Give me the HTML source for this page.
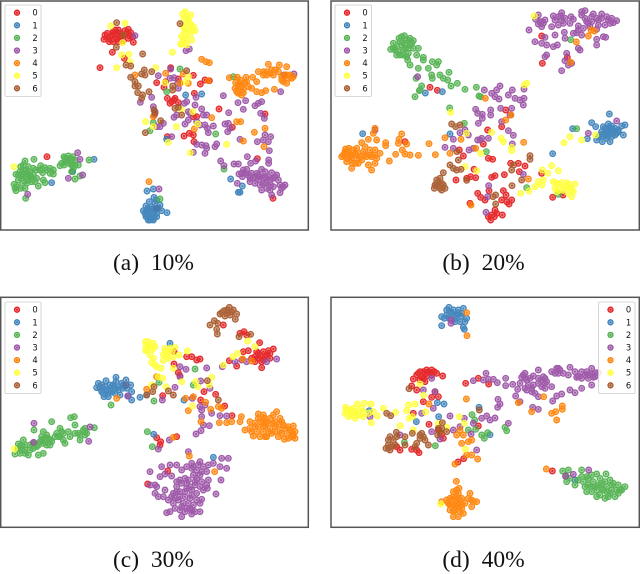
<!DOCTYPE html>
<html lang="en">
<head>
<meta charset="utf-8">
<title>t-SNE scatter panels</title>
<style>
html,body{margin:0;padding:0;background:#fff;width:640px;height:574px;overflow:hidden}
svg{display:block;position:absolute;left:0;top:0;filter:blur(.3px)}
.cap{font-family:"Liberation Serif",serif;font-size:23.5px;word-spacing:6px;fill:#111;text-anchor:middle}
.lg{font-family:"DejaVu Sans",sans-serif;font-size:8.4px;fill:#111;text-anchor:middle;dominant-baseline:central}
</style>
</head>
<body>
<svg id="chart" width="640" height="574" viewBox="0 0 640 574" xmlns="http://www.w3.org/2000/svg"></svg>
<script>
const classLabels=['0','1','2','3','4','5','6'];
const classColors=['#e41a1c','#377eb8','#4daf4a','#984ea3','#ff7f00','#ffff33','#a65628'];
const captions=['(a) 10%','(b) 20%','(c) 30%','(d) 40%'];

const a0=[[315,105],[322,100],[330,110],[328,125],[340,95],[345,105],[350,118],[355,90],[362,100],[375,92],[385,88],[392,98],[398,110],[385,115],[370,122],[340,125],[360,115],[312,118],[400,127],[337,157],[373,175],[300,203],[512,203],[580,226],[470,248],[497,245],[492,262],[535,237],[601,252],[615,240],[628,242],[583,280],[502,295],[515,305],[525,295],[510,310],[535,308],[522,300],[590,350],[580,350],[657,327],[795,342],[552,408],[568,400],[580,405],[582,425],[502,410],[697,382],[772,476],[819,595],[470,625],[141,470],[325,115],[335,105],[350,100],[365,108],[378,102],[390,108],[355,125],[345,90]];
const a1=[[441,573],[460,567],[462,592],[448,605],[438,618],[430,632],[442,630],[455,620],[465,610],[440,645],[450,650],[462,655],[470,640],[455,640],[445,660],[460,660],[435,640],[480,615],[485,632],[501,638],[470,600],[452,632],[462,645],[155,548],[282,478],[218,515],[557,285],[605,282],[692,537],[727,558],[715,577],[720,577],[500,418],[445,625],[458,628],[470,650],[450,660],[440,630],[465,630],[475,625],[438,650]];
const a2=[[75,483],[102,478],[62,500],[85,500],[122,497],[135,503],[150,505],[160,510],[48,523],[60,515],[70,510],[80,520],[90,515],[100,525],[108,510],[75,530],[85,540],[95,545],[65,535],[55,540],[42,553],[50,560],[62,565],[75,565],[48,572],[92,530],[110,535],[115,558],[130,540],[135,548],[128,518],[150,520],[160,522],[77,595],[180,497],[192,470],[205,468],[218,470],[225,480],[195,485],[205,490],[215,495],[225,495],[200,480],[212,480],[235,495],[192,495],[225,537],[240,528],[215,515],[267,480],[460,368],[450,392],[500,275],[540,207],[647,402],[672,507],[480,597],[700,230],[70,495],[78,510],[88,528],[100,505],[68,525],[80,550],[55,525],[45,565],[68,550],[105,545],[140,510],[120,510],[205,478],[195,475],[215,488],[220,505],[185,490]];
const a3=[[405,107],[568,147],[558,152],[475,227],[512,207],[510,235],[522,233],[533,250],[535,265],[560,305],[553,310],[585,315],[588,292],[565,335],[605,327],[522,352],[530,345],[570,340],[565,360],[555,372],[590,365],[610,345],[620,345],[670,287],[615,375],[640,378],[622,385],[625,398],[600,375],[675,372],[685,370],[690,385],[683,395],[686,338],[714,308],[730,328],[765,317],[775,310],[785,305],[782,340],[793,355],[421,307],[455,292],[460,320],[465,335],[463,345],[490,370],[480,380],[470,380],[515,410],[590,433],[605,435],[618,437],[615,460],[580,457],[620,445],[650,432],[645,440],[720,418],[772,425],[795,405],[812,410],[790,420],[805,425],[808,452],[742,470],[752,490],[767,483],[806,480],[806,490],[662,483],[672,497],[702,492],[715,492],[717,522],[730,510],[740,508],[727,530],[745,525],[755,520],[770,520],[785,508],[795,515],[815,518],[830,525],[760,535],[775,540],[790,535],[805,530],[820,535],[835,540],[855,555],[845,565],[840,578],[850,560],[812,555],[810,570],[815,585],[785,570],[780,555],[765,550],[750,545],[712,550],[800,550],[233,458],[240,478],[205,535],[248,525],[83,583],[477,567],[852,225],[882,222],[842,275],[737,302],[725,520],[735,520],[750,535],[765,530],[780,530],[795,530],[810,540],[825,530],[790,550],[800,565],[820,560],[840,555],[775,525]];
const a4=[[605,178],[618,185],[628,188],[688,233],[712,232],[738,232],[707,248],[720,250],[735,250],[705,265],[718,265],[730,268],[745,260],[715,280],[725,285],[758,232],[770,245],[775,215],[805,193],[800,215],[815,210],[825,210],[838,195],[860,200],[845,230],[855,225],[865,235],[875,235],[850,245],[860,250],[820,225],[790,225],[755,265],[770,275],[785,278],[797,272],[823,268],[710,365],[722,365],[763,397],[795,385],[792,440],[730,423],[460,350],[405,225],[497,220],[550,222],[540,250],[565,250],[447,545],[583,387],[635,353],[625,242],[715,255],[725,258],[710,275],[730,278],[720,240],[740,245],[845,240],[860,225],[870,225],[835,215],[810,220],[800,225],[790,215],[880,230]];
const a5=[[555,35],[548,42],[572,45],[552,55],[565,58],[560,70],[572,72],[550,80],[565,85],[575,92],[585,92],[552,100],[545,110],[560,115],[575,120],[548,132],[542,132],[560,135],[517,157],[332,78],[375,70],[368,128],[365,165],[387,163],[350,203],[467,203],[495,248],[565,230],[558,245],[545,330],[578,335],[437,365],[460,380],[529,380],[593,372],[505,427],[571,458],[680,433],[42,500],[390,185],[560,50],[565,65],[555,90],[570,105],[580,80],[550,120]];
const a6=[[350,68],[370,105],[349,142],[540,71],[428,162],[378,195],[392,198],[433,210],[425,222],[455,215],[435,225],[392,232],[405,245],[405,258],[415,258],[413,278],[428,285],[425,295],[447,275],[462,330],[465,340],[560,212],[518,258],[518,270],[525,325],[535,322],[545,345],[482,362],[436,398]];

const b0=[[315,262],[337,271],[650,108],[652,190],[727,172],[542,330],[488,390],[475,432],[490,475],[503,478],[403,450],[415,468],[447,508],[437,530],[425,535],[452,533],[393,540],[500,532],[510,527],[538,524],[557,490],[580,490],[600,498],[583,515],[458,580],[467,592],[492,572],[480,600],[535,572],[543,585],[530,600],[545,605],[560,600],[552,612],[510,630],[515,640],[500,645],[490,650],[497,660],[508,650],[532,645],[240,425],[683,592],[650,520],[714,585],[530,380],[435,610]];
const b1=[[113,401],[375,402],[301,279],[352,275],[743,386],[683,461],[787,416],[853,342],[800,368],[812,380],[835,380],[850,372],[860,378],[845,390],[855,395],[830,395],[820,410],[835,410],[860,410],[870,385],[880,390],[895,405],[900,375],[890,378],[815,420],[832,425],[855,425],[870,405],[880,395],[845,415],[845,405],[840,385],[850,385],[865,395],[840,400],[850,405],[825,405],[860,390],[875,400]];
const b2=[[238,107],[222,115],[205,130],[197,148],[210,150],[225,125],[240,130],[255,115],[265,122],[280,145],[215,165],[235,150],[250,160],[225,165],[240,145],[255,135],[248,180],[255,195],[275,165],[295,172],[295,180],[280,205],[322,185],[340,185],[335,195],[310,205],[320,225],[322,235],[345,225],[372,217],[355,235],[368,240],[378,258],[397,250],[420,268],[270,290],[285,270],[290,258],[283,272],[273,235],[454,262],[462,288],[467,290],[374,324],[418,370],[484,455],[605,563],[700,583],[737,119],[755,386],[230,135],[215,140],[205,145],[245,120],[250,145],[220,155],[265,145],[230,110],[260,130],[235,165],[245,170]];
const b3=[[640,45],[632,58],[645,65],[655,70],[660,60],[650,80],[612,90],[685,48],[690,60],[710,38],[708,48],[710,62],[680,80],[700,75],[720,55],[738,50],[735,70],[745,58],[770,35],[780,32],[770,45],[805,42],[830,42],[785,65],[760,78],[775,85],[790,70],[800,65],[820,60],[845,50],[860,55],[875,62],[855,70],[840,75],[820,75],[815,88],[630,125],[650,130],[665,135],[685,140],[697,135],[660,112],[690,105],[718,97],[720,115],[755,98],[770,105],[760,145],[765,150],[815,135],[815,118],[835,110],[842,112],[665,165],[660,170],[725,160],[720,182],[730,195],[740,190],[710,212],[278,230],[478,270],[525,258],[515,270],[500,280],[510,290],[522,297],[562,270],[550,285],[570,295],[585,300],[595,315],[597,295],[597,267],[452,328],[458,340],[472,343],[472,355],[497,330],[497,345],[527,325],[560,325],[555,345],[460,370],[530,365],[550,392],[565,406],[405,398],[420,390],[430,405],[458,420],[470,415],[490,415],[385,418],[360,442],[385,445],[432,450],[445,445],[562,432],[595,523],[491,557],[488,590],[483,637],[875,363],[790,400],[150,390],[465,420],[800,50],[815,55],[830,55],[850,60],[865,68],[795,80],[700,50],[715,70],[650,65],[640,72],[780,55],[760,90],[745,100]];
const b4=[[150,385],[145,400],[130,418],[155,420],[110,428],[182,428],[182,437],[230,402],[222,418],[220,430],[245,432],[62,447],[55,465],[70,455],[85,450],[95,445],[100,460],[120,440],[115,455],[135,450],[150,450],[165,460],[65,475],[80,480],[95,475],[110,480],[125,470],[155,475],[150,490],[130,495],[80,505],[100,490],[140,510],[193,483],[212,463],[232,450],[240,462],[255,465],[280,466],[312,431],[331,464],[360,413],[408,418],[375,460],[452,445],[542,360],[558,345],[481,295],[596,427],[798,90],[808,93],[790,108],[754,126],[737,187],[438,615],[610,537],[60,460],[75,465],[90,462],[50,470],[60,455],[72,445],[80,465],[92,490],[105,470],[120,465],[140,470],[150,465],[65,485],[135,465],[82,490],[75,470]];
const b5=[[628,48],[605,250],[598,255],[377,337],[424,400],[500,397],[528,415],[535,425],[560,442],[560,452],[467,460],[455,512],[420,500],[680,497],[652,510],[668,520],[700,512],[655,540],[640,545],[650,555],[630,560],[587,580],[612,573],[685,545],[695,550],[710,548],[725,548],[750,552],[690,565],[705,570],[720,560],[735,565],[745,575],[730,580],[740,590],[717,428],[735,410],[770,420],[812,405],[700,555],[715,570],[725,555],[735,555],[740,570],[695,575]];
const b6=[[380,372],[392,380],[405,375],[375,495],[355,518],[385,505],[400,480],[395,510],[408,508],[335,540],[345,535],[330,555],[340,560],[355,555],[350,570],[360,565],[328,565],[396,455],[425,541],[561,557],[566,495],[560,510],[590,540],[615,467],[615,478],[512,585],[512,612],[504,590],[340,545],[350,550],[335,555],[345,565]];

const c0=[[670,105],[732,125],[720,130],[740,135],[779,158],[745,182],[730,185],[560,200],[575,200],[590,210],[600,207],[522,222],[535,248],[540,258],[688,212],[710,228],[775,190],[790,185],[805,182],[820,177],[775,205],[790,210],[810,205],[765,215],[785,233],[800,195],[755,205],[488,317],[612,305],[602,330],[647,313],[674,348],[696,377],[470,443],[482,455],[480,465],[530,440],[503,543],[443,582],[522,185],[378,285],[780,195],[795,200],[810,190],[770,185],[785,215],[765,200]];
const c1=[[510,160],[295,280],[290,293],[305,285],[318,272],[330,285],[348,262],[348,275],[365,280],[378,270],[392,285],[380,295],[395,305],[345,295],[305,305],[320,300],[335,305],[312,320],[325,320],[345,310],[360,315],[368,295],[385,318],[395,330],[420,322],[440,315],[552,330],[461,433],[640,502],[300,295],[315,290],[330,295],[355,290],[340,285],[310,310],[325,310],[370,285],[355,300]];
const c2=[[212,383],[223,380],[102,420],[155,395],[130,425],[125,440],[120,455],[110,470],[100,475],[70,450],[55,462],[65,465],[45,492],[60,490],[75,480],[85,495],[90,480],[115,495],[130,490],[140,465],[150,450],[165,440],[180,415],[185,425],[175,440],[190,450],[195,460],[205,425],[225,405],[235,430],[250,420],[255,435],[240,450],[225,430],[283,413],[255,415],[260,430],[333,345],[442,425],[457,470],[462,333],[585,237],[580,285],[477,277],[140,435],[150,465],[100,460],[75,465],[210,440],[125,450],[115,465],[130,460],[145,445],[155,455],[170,430],[180,440],[65,480],[55,475],[75,490],[90,465],[240,435],[255,425],[190,430],[135,445]];
const c3=[[565,485],[485,530],[510,525],[530,525],[450,545],[480,560],[495,552],[515,558],[545,540],[575,520],[600,515],[575,535],[610,530],[625,525],[640,520],[665,505],[685,505],[660,530],[680,535],[580,555],[600,555],[620,545],[470,590],[450,585],[465,585],[495,600],[465,610],[475,620],[505,630],[520,610],[530,590],[545,580],[565,570],[585,585],[605,575],[625,570],[663,570],[622,595],[648,612],[540,605],[560,595],[555,620],[575,615],[590,630],[605,628],[520,640],[535,630],[550,640],[565,640],[580,645],[525,655],[500,668],[545,680],[575,672],[600,665],[585,665],[560,655],[540,660],[510,665],[570,625],[530,575],[590,540],[540,260],[558,238],[620,234],[540,230],[525,292],[602,273],[630,295],[487,330],[577,325],[600,350],[605,360],[635,370],[605,380],[660,377],[680,378],[628,407],[610,405],[588,432],[603,422],[508,450],[475,477],[705,215],[725,210],[800,215],[830,207],[667,230],[266,454],[270,411],[102,400],[101,457],[383,318],[615,345],[740,215],[560,530],[555,565],[570,590],[590,565],[600,590],[610,600],[540,620],[525,625],[515,620],[555,605],[575,600],[590,610],[600,640],[570,655],[545,650],[555,665],[575,660],[530,605],[580,530],[595,525],[605,545],[585,575],[620,585],[560,580],[490,620],[540,570]];
const c4=[[350,325],[440,298],[565,362],[603,395],[632,358],[617,337],[655,350],[665,355],[658,398],[680,398],[695,395],[724,380],[720,395],[750,395],[775,372],[790,375],[810,385],[830,365],[825,395],[845,395],[735,420],[750,415],[760,438],[780,440],[790,425],[775,410],[795,405],[810,415],[825,410],[840,420],[855,415],[870,420],[880,408],[885,425],[885,445],[860,430],[853,448],[835,440],[815,430],[800,440],[875,440],[765,400],[790,395],[805,400],[520,442],[568,498],[644,545],[728,207],[755,213],[557,325],[580,320],[470,260],[765,410],[780,395],[800,395],[820,400],[835,405],[850,405],[865,410],[875,425],[845,430],[825,425],[805,425],[790,410],[770,425],[755,425],[865,445],[840,385],[820,375],[795,385],[775,385],[880,435],[795,440]];
const c5=[[437,155],[445,155],[460,160],[438,170],[450,170],[455,180],[437,182],[450,195],[465,170],[495,175],[510,175],[525,172],[505,185],[490,195],[520,200],[537,195],[490,212],[455,218],[470,230],[483,235],[562,183],[520,235],[545,275],[475,260],[488,265],[498,290],[455,285],[587,275],[593,290],[635,262],[628,285],[577,348],[699,200],[713,190],[743,153],[765,170],[670,225],[43,477],[445,165],[460,175],[440,178],[500,200],[505,205],[515,185],[495,185],[465,225],[460,205]];
const c6=[[688,52],[672,62],[660,72],[680,70],[695,65],[710,72],[706,88],[630,105],[643,92],[653,100],[650,118],[652,132],[717,140],[752,133],[462,290],[458,305],[440,315],[505,303],[520,315],[622,272],[655,330],[665,68],[680,60],[690,75],[700,60],[675,78]];

const d0=[[285,245],[295,245],[305,240],[320,240],[335,250],[275,255],[290,260],[305,258],[320,255],[353,258],[300,275],[265,267],[260,288],[275,300],[330,305],[340,320],[320,322],[295,335],[265,370],[422,280],[460,265],[491,282],[312,403],[350,432],[355,445],[460,408],[215,470],[225,480],[260,478],[275,480],[282,488],[399,516],[416,506],[682,543],[340,420],[280,250],[300,250],[315,248],[328,245],[285,270],[310,245],[295,265]];
const d1=[[372,52],[365,60],[350,80],[350,107],[358,85],[380,70],[400,70],[415,55],[395,85],[405,95],[425,85],[415,112],[418,118],[385,60],[408,78],[372,85],[357,342],[341,380],[462,352],[133,362],[274,395],[495,434],[337,338],[750,570],[375,65],[390,75],[410,70],[390,95],[400,60],[365,75],[420,95]];
const d2=[[713,543],[730,540],[722,560],[735,565],[750,585],[770,540],[785,560],[800,555],[815,552],[843,552],[855,570],[865,580],[880,585],[900,590],[890,600],[880,610],[870,620],[855,610],[835,600],[825,615],[815,620],[800,605],[785,605],[790,585],[775,575],[805,575],[830,580],[845,590],[820,585],[760,570],[441,374],[449,390],[430,420],[452,418],[470,435],[488,428],[478,445],[331,467],[540,412],[545,422],[238,457],[860,600],[840,625],[725,575],[790,565],[800,590],[815,600],[830,595],[845,605],[860,585],[875,600],[810,590],[840,575],[825,565],[780,590],[770,560],[885,600],[850,620]];
const d3=[[483,250],[475,270],[490,268],[505,268],[517,278],[445,272],[542,265],[542,287],[563,283],[600,250],[590,262],[605,270],[585,280],[610,285],[640,240],[625,258],[655,260],[665,275],[640,280],[680,245],[695,235],[705,240],[715,250],[735,232],[750,245],[730,255],[755,262],[770,245],[785,245],[800,235],[810,248],[770,265],[790,265],[805,262],[800,285],[770,295],[750,308],[735,300],[710,312],[695,318],[683,333],[680,290],[660,295],[620,305],[630,310],[640,320],[600,295],[578,298],[572,318],[585,335],[623,352],[640,358],[519,328],[525,342],[518,352],[485,378],[470,385],[495,390],[510,384],[550,400],[375,378],[445,400],[438,432],[385,420],[405,410],[418,385],[320,425],[345,447],[455,480],[320,265],[295,300],[330,305],[290,370],[325,355],[378,90],[378,100],[745,553],[722,558],[791,540],[225,435],[135,380],[700,235],[660,265],[820,248],[595,255],[600,265],[615,265],[640,265],[650,270],[690,250],[700,250],[790,255],[800,250],[810,260],[780,255],[620,295],[650,290],[605,300],[660,280],[625,285],[760,260]];
const d4=[[425,68],[426,137],[424,327],[656,320],[580,338],[620,365],[680,370],[692,365],[712,348],[712,358],[695,390],[405,420],[395,435],[415,435],[410,460],[430,455],[440,450],[425,495],[440,495],[458,507],[390,522],[664,537],[312,342],[394,574],[402,595],[385,605],[365,630],[375,625],[395,620],[410,625],[435,610],[430,625],[455,635],[380,645],[395,640],[410,645],[440,650],[375,660],[390,660],[405,665],[385,680],[415,670],[350,635],[400,610],[420,640],[380,630],[395,630],[405,630],[385,620],[400,650],[390,650],[385,665],[400,680],[410,655],[375,645],[395,600],[440,630],[445,635],[370,640],[405,640]];
const d5=[[62,352],[75,360],[60,370],[70,380],[85,370],[97,342],[100,365],[90,385],[115,380],[118,340],[138,342],[110,355],[130,370],[145,365],[157,378],[175,355],[212,367],[139,398],[270,342],[250,345],[245,362],[262,380],[252,385],[285,282],[296,316],[302,366],[226,407],[265,420],[403,380],[418,400],[340,400],[365,412],[421,478],[347,642],[70,360],[80,365],[90,365],[95,375],[75,375],[105,375],[115,365],[65,360],[85,355]];
const d6=[[185,370],[197,377],[252,296],[214,427],[195,440],[205,450],[190,465],[183,475],[195,480],[210,465],[240,440],[240,465],[262,430],[275,460],[270,470],[290,430],[285,445],[300,450],[310,465],[340,415],[338,435],[352,398],[365,425],[463,360],[190,475],[200,470],[215,440],[190,450],[285,435],[295,440],[345,425],[350,415]];

const panelSeries=[[a0,a1,a2,a3,a4,a5,a6],[b0,b1,b2,b3,b4,b5,b6],[c0,c1,c2,c3,c4,c5,c6],[d0,d1,d2,d3,d4,d5,d6]];
const panelNames=['a','b','c','d'];

const NS='http://www.w3.org/2000/svg';
const svg=document.getElementById('chart');
function mk(tag,attrs,parent){const e=document.createElementNS(NS,tag);for(const k in attrs)e.setAttribute(k,attrs[k]);parent.appendChild(e);return e;}
function axisX(i,v){const o=(i%2)?325:0;return o+v/3;}
function axisY(i,v){const o=(i<2)?0:290;return o+v/3;}

const frames=[{x:.7,y:1,w:307.6,h:229},{x:331,y:1,w:308.3,h:229},{x:.7,y:297.3,w:307.6,h:230},{x:331,y:297.3,w:308.3,h:230}];
const legendBoxes=[{x:5,y:5,w:36,h:91.5},{x:335,y:5,w:36.5,h:91.5},{x:5,y:302,w:36,h:91.5},{x:598.5,y:302,w:36.5,h:91.5}];
const captionCenters=[153.5,483.5,153.5,483.5];
const rowStep=12.6;

function drawMarker(g,cx,cy,c,r){
  mk('circle',{cx:cx,cy:cy,r:r,fill:c,'fill-opacity':0.55,stroke:c,'stroke-width':1.3},g);
  mk('circle',{cx:cx,cy:cy,r:r*0.4,fill:c},g);
}

panelSeries.forEach(function(series,i){
  const f=frames[i];
  const panel=mk('g',{},svg);
  
  
  const bg=mk('rect',{x:f.x,y:f.y,width:f.w,height:f.h,fill:'#fff'},panel);
  
  
  series.forEach(function(pts,s){
    const g=mk('g',{opacity:0.92},panel);
    
    
    pts.forEach(function(p){
      const m=mk('g',{},g);
      
      
      drawMarker(m,axisX(i,p[0]),axisY(i,p[1]),classColors[s],2.8);
    });
  });
  const border=mk('rect',{x:f.x,y:f.y,width:f.w,height:f.h,fill:'none',stroke:'#555','stroke-width':1.5},panel);
  
  
  const b=legendBoxes[i];
  const lg=mk('g',{},panel);
  
  
  mk('rect',{x:b.x,y:b.y,width:b.w,height:b.h,rx:1.5,fill:'#fff','fill-opacity':0.85,stroke:'#ccc','stroke-width':.8},lg);
  classLabels.forEach(function(lab,s){
    const y=b.y+7.7+s*rowStep;
    const e=mk('g',{},lg);
    
    
    drawMarker(e,b.x+12,y,classColors[s],2.5);
    const t=mk('text',{x:b.x+30,y:y,'class':'lg'},e);
    t.textContent=lab;
  });
  const cap=mk('text',{x:captionCenters[i],y:i<2?270:567,'class':'cap'},panel);
  
  
  cap.textContent=captions[i];
});
</script>
</body>
</html>
